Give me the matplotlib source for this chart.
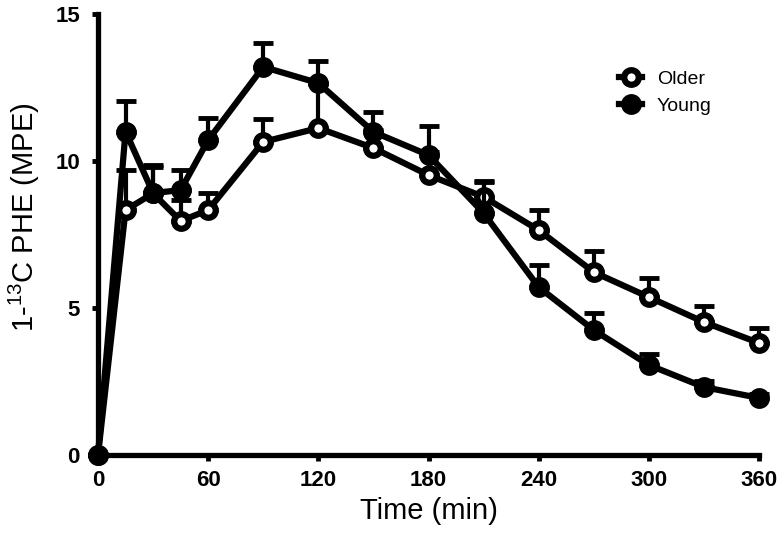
import numpy as np
import matplotlib.pyplot as plt
from matplotlib.lines import Line2D

plt.rcParams['font.family'] = ['Liberation Sans', 'DejaVu Sans']
plt.rcParams['mathtext.default'] = 'regular'

time_min = [0, 15, 30, 45, 60, 90, 120, 150, 180, 210, 240, 270, 300, 330, 360]

older = [0, 8.33, 8.9, 7.96, 8.33, 10.65, 11.12, 10.44, 9.52, 8.78, 7.65, 6.22, 5.37, 4.52, 3.81]
older_err = [0, 1.35, 0.9, 0.7, 0.57, 0.78, 1.5, 0.6, 0.8, 0.5, 0.7, 0.72, 0.65, 0.55, 0.5]

young = [0, 11.0, 8.91, 9.01, 10.71, 13.2, 12.65, 10.99, 10.2, 8.23, 5.71, 4.25, 3.06, 2.31, 1.94]
young_err = [0, 1.05, 0.95, 0.7, 0.75, 0.8, 0.75, 0.68, 1.0, 1.1, 0.75, 0.58, 0.37, 0.2, 0.15]

x_ticks = [0, 60, 120, 180, 240, 300, 360]
y_ticks = [0, 5, 10, 15]

fig = plt.figure(figsize=(7.83, 5.40), dpi=100)
ax = fig.add_axes([98 / 783, 85 / 540, 661 / 783, 441 / 540])

lw = 4.5
ms = 10.5
mew = 4.5

# older (open circles) first, young drawn on top
ax.errorbar(time_min, older, yerr=[np.zeros(len(older)), older_err], fmt='none',
            ecolor='black', elinewidth=3, capsize=7.5, capthick=3.5, clip_on=False, zorder=2)
ax.plot(time_min, older, color='black', lw=lw, marker='o', ms=ms, mew=mew,
        mfc='white', mec='black', clip_on=False, zorder=3)

ax.errorbar(time_min, young, yerr=[np.zeros(len(young)), young_err], fmt='none',
            ecolor='black', elinewidth=3, capsize=7.5, capthick=3.5, clip_on=False, zorder=4)
ax.plot(time_min, young, color='black', lw=lw, marker='o', ms=ms, mew=mew,
        mfc='black', mec='black', clip_on=False, zorder=5)

ax.set_xlim(0, 360)
ax.set_ylim(0, 15)
ax.set_xticks(x_ticks)
ax.set_yticks(y_ticks)

for side in ['top', 'right']:
    ax.spines[side].set_visible(False)
for side in ['left', 'bottom']:
    ax.spines[side].set_linewidth(3.8)

ax.tick_params(axis='both', length=4, width=3.5, labelsize=16)
ax.tick_params(axis='x', pad=7)
ax.tick_params(axis='y', pad=9)
for lab in ax.get_xticklabels() + ax.get_yticklabels():
    lab.set_fontweight('bold')

ax.set_xlabel('Time (min)', fontsize=21, labelpad=4)
ax.set_ylabel('1-$^{13}$C PHE (MPE)', fontsize=21)
ax.yaxis.set_label_coords(-0.085, 0.54)

handles = [
    Line2D([], [], color='black', lw=lw, marker='o', ms=ms, mew=mew, mfc='white', mec='black'),
    Line2D([], [], color='black', lw=lw, marker='o', ms=ms, mew=mew, mfc='black', mec='black'),
]
ax.legend(handles, ['Older', 'Young'], loc='upper left', bbox_to_anchor=(619 / 783, 1 - 70 / 540),
          bbox_transform=fig.transFigure, frameon=False, fontsize=14, handlelength=1.2,
          handletextpad=0.75, labelspacing=0.5, borderpad=0, borderaxespad=0)

fig.savefig('out.png', dpi=100)
